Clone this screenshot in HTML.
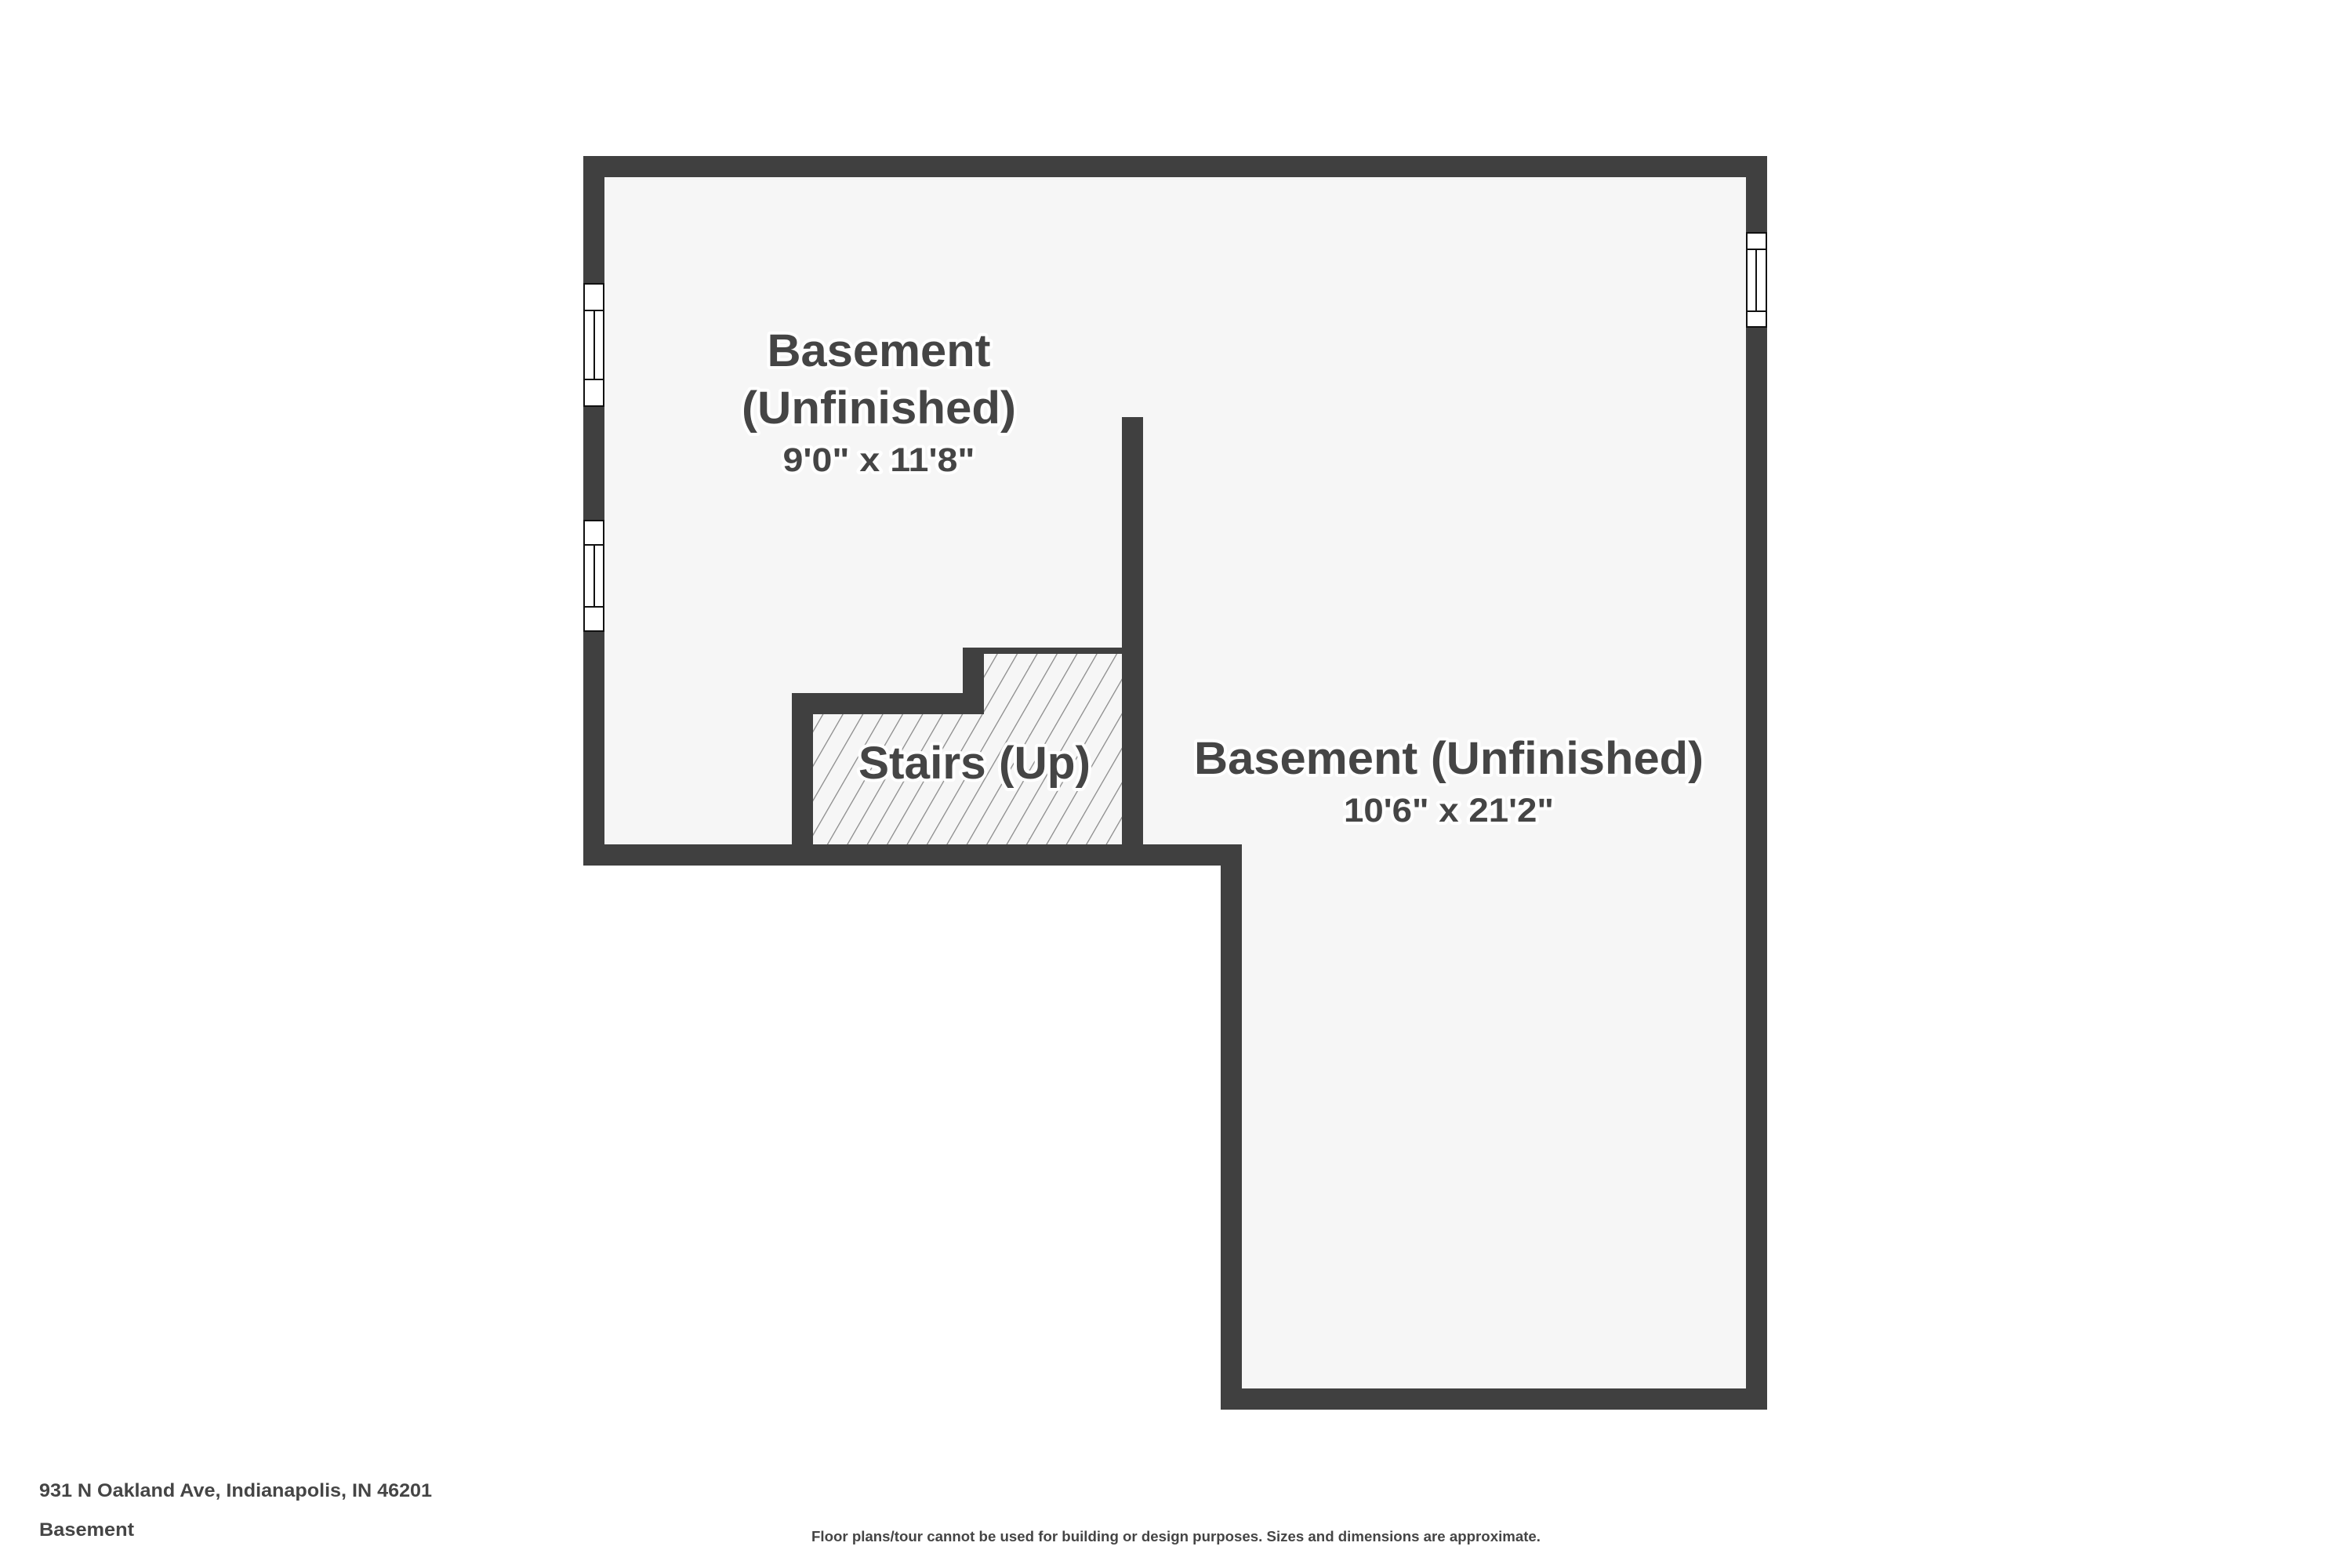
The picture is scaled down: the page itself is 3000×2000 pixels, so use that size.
<!DOCTYPE html>
<html><head><meta charset="utf-8"><style>
html,body{margin:0;padding:0;background:#fff;}
svg{display:block;}
text{font-family:"Liberation Sans",sans-serif;font-weight:bold;fill:#454545;}
.h{stroke:#fff;stroke-width:8;paint-order:stroke;stroke-linejoin:round;}
</style></head><body>
<svg width="3000" height="2000" viewBox="0 0 3000 2000" xmlns="http://www.w3.org/2000/svg">
<defs>
<pattern id="hatch" width="22" height="22" patternUnits="userSpaceOnUse" patternTransform="rotate(30)">
<rect width="22" height="22" fill="#f6f6f6"/>
<line x1="0" y1="0" x2="0" y2="22" stroke="#888" stroke-width="2.5"/>
</pattern>
</defs>
<rect x="744" y="199" width="1510" height="905" fill="#f6f6f6"/>
<rect x="1557" y="1077" width="697" height="721" fill="#f6f6f6"/>
<polygon points="1037,911 1255,911 1255,834 1431,834 1431,1077 1037,1077" fill="url(#hatch)"/>
<g fill="#404040">
<rect x="744" y="199" width="1510" height="27"/>
<rect x="744" y="199" width="27" height="905"/>
<rect x="2227" y="199" width="27" height="1599"/>
<rect x="1557" y="1771" width="697" height="27"/>
<rect x="1557" y="1077" width="27" height="721"/>
<rect x="744" y="1077" width="840" height="27"/>
<rect x="1431" y="532" width="27" height="572"/>
<rect x="1010" y="884" width="27" height="220"/>
<rect x="1010" y="884" width="245" height="27"/>
<rect x="1228" y="826" width="27" height="85"/>
<rect x="1228" y="826" width="203" height="8"/>
</g>
<g fill="#fff" stroke="#111" stroke-width="2">
<rect x="745" y="362" width="25" height="156"/>
<line x1="745" y1="396" x2="770" y2="396"/><line x1="745" y1="484" x2="770" y2="484"/><line x1="758" y1="396" x2="758" y2="484"/>
<rect x="745" y="664" width="25" height="141"/>
<line x1="745" y1="695" x2="770" y2="695"/><line x1="745" y1="774" x2="770" y2="774"/><line x1="758" y1="695" x2="758" y2="774"/>
<rect x="2228" y="297" width="25" height="120"/>
<line x1="2228" y1="318" x2="2253" y2="318"/><line x1="2228" y1="397" x2="2253" y2="397"/><line x1="2240" y1="318" x2="2240" y2="397"/>
</g>
<g text-anchor="middle">
<text class="h" x="1121" y="467" font-size="58" textLength="285" lengthAdjust="spacingAndGlyphs">Basement</text>
<text class="h" x="1121" y="540" font-size="58" textLength="350" lengthAdjust="spacingAndGlyphs">(Unfinished)</text>
<text class="h" x="1121" y="601" font-size="43" textLength="245" lengthAdjust="spacingAndGlyphs">9'0" x 11'8"</text>
<text class="h" x="1243" y="993" font-size="58" textLength="296" lengthAdjust="spacingAndGlyphs">Stairs (Up)</text>
<text class="h" x="1848" y="987" font-size="58" textLength="650" lengthAdjust="spacingAndGlyphs">Basement (Unfinished)</text>
<text class="h" x="1848" y="1048" font-size="43" textLength="268" lengthAdjust="spacingAndGlyphs">10'6" x 21'2"</text>
</g>
<text x="50" y="1909" font-size="24" textLength="501" lengthAdjust="spacingAndGlyphs">931 N Oakland Ave, Indianapolis, IN 46201</text>
<text x="50" y="1959" font-size="24" textLength="121" lengthAdjust="spacingAndGlyphs">Basement</text>
<text x="1500" y="1966" font-size="18" text-anchor="middle" textLength="930" lengthAdjust="spacingAndGlyphs">Floor plans/tour cannot be used for building or design purposes. Sizes and dimensions are approximate.</text>
</svg>
</body></html>
